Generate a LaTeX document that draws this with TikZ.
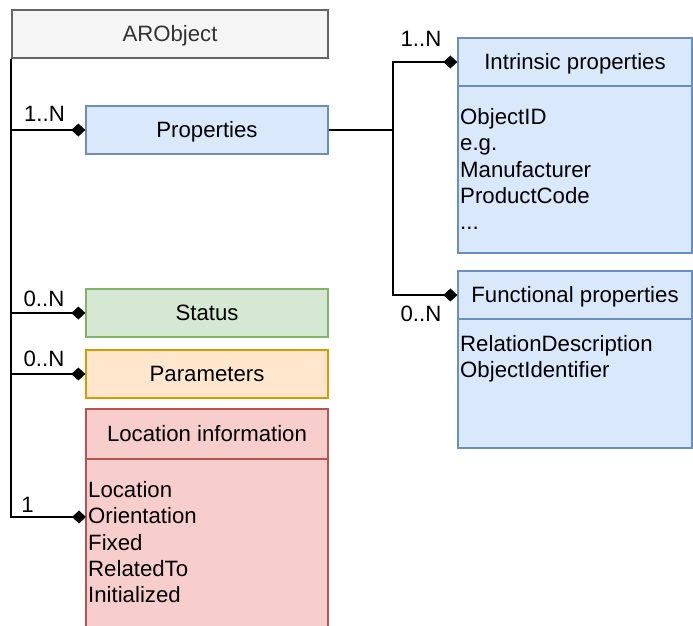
\documentclass[tikz,border=0pt]{standalone}
\usepackage{fontspec}
\setmainfont{Liberation Sans}
\usetikzlibrary{arrows.meta}
\definecolor{greyfill}{HTML}{F5F5F5}
\definecolor{greyline}{HTML}{666666}
\definecolor{greytext}{HTML}{333333}
\definecolor{bluefill}{HTML}{DAE8FC}
\definecolor{blueline}{HTML}{6C8EBF}
\definecolor{greenfill}{HTML}{D5E8D4}
\definecolor{greenline}{HTML}{82B366}
\definecolor{orangefill}{HTML}{FFE6CC}
\definecolor{orangeline}{HTML}{D79B00}
\definecolor{redfill}{HTML}{F8CECC}
\definecolor{redline}{HTML}{B85450}
\begin{document}
\begin{tikzpicture}[x=1pt,y=-1pt,
  txt/.style={font=\fontsize{22.2pt}{26.4pt}\selectfont},
  hdr/.style={txt, draw, line width=1.3pt, inner sep=0pt,
    text height=15.75pt, text depth=0pt},
  compbody/.style={draw, line width=1.3pt, inner sep=0pt},
  listtext/.style={txt, align=left, anchor=north west, inner sep=0pt},
  lbl/.style={txt, inner sep=0pt, text height=15.75pt, text depth=0pt},
  link/.style={line width=1.8pt, black},
  conn/.style={link, -{Diamond[length=14pt,width=13pt]}},
  bluebox/.style={fill=bluefill, draw=blueline}]
\useasboundingbox (0,0) rectangle (693,625);
\fill[white] (0,0) rectangle (693,625);

% root class
\node[hdr, fill=greyfill, draw=greyline, text=greytext,
  minimum width=316pt, minimum height=48pt] (aro) at (170,34) {ARObject};

% left column
\node[hdr, bluebox, minimum width=242pt, minimum height=48pt] (props) at (207,130) {Properties};
\node[hdr, fill=greenfill, draw=greenline, minimum width=242pt, minimum height=48pt] (status) at (207,313) {Status};
\node[hdr, fill=orangefill, draw=orangeline, minimum width=242pt, minimum height=48pt] (params) at (207,374) {Parameters};

\node[compbody, fill=redfill, draw=redline, minimum width=242pt, minimum height=181pt] (locbody) at (207,549.5) {};
\node[hdr, fill=redfill, draw=redline, minimum width=242pt, minimum height=50pt] (loc) at (207,434) {Location information};
\node[listtext] (loclist) at (88,481) {Location\\Orientation\\Fixed\\RelatedTo\\Initialized};

% right column
\node[compbody, bluebox, minimum width=234pt, minimum height=167pt] (intrbody) at (575,169.5) {};
\node[hdr, bluebox, minimum width=234pt, minimum height=48pt] (intr) at (575,62) {Intrinsic properties};
\node[listtext] (intrlist) at (460,108) {ObjectID\\e.g.\\Manufacturer\\ProductCode\\...};

\node[compbody, bluebox, minimum width=234pt, minimum height=129pt] (funcbody) at (575,383.5) {};
\node[hdr, bluebox, minimum width=234pt, minimum height=48pt] (func) at (575,295) {Functional properties};
\node[listtext] (funclist) at (460,335) {RelationDescription\\ObjectIdentifier};

% composition links from the root
\coordinate (locpin) at (86,517);
\draw[conn] (aro.south west) |- (props.west);
\draw[conn] (aro.south west) |- (status.west);
\draw[conn] (aro.south west) |- (params.west);
\draw[conn] (aro.south west) |- (locpin);

% properties split
\coordinate (fork) at (393,130);
\draw[link] (props.east) -- (fork);
\draw[conn] (fork) |- (intr.west);
\draw[conn] (fork) |- (func.west);

% multiplicities
\node[lbl] (mprops) at (44.5,114) {1..N};
\node[lbl] (mstatus) at (44,299) {0..N};
\node[lbl] (mparams) at (44,359) {0..N};
\node[lbl] (mloc) at (27.5,504.5) {1};
\node[lbl] (mintr) at (421,39) {1..N};
\node[lbl] (mfunc) at (421,314) {0..N};
\end{tikzpicture}
\end{document}
